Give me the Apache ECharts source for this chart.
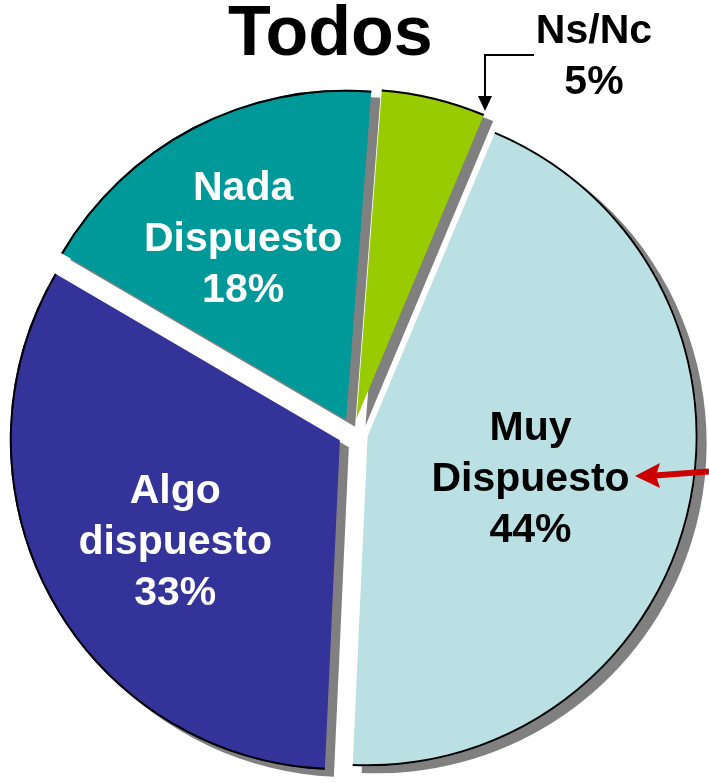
<!DOCTYPE html>
<html lang="es">
<head>
    <meta charset="UTF-8">
    <title>Todos</title>
    <script src="https://cdn.jsdelivr.net/npm/echarts@6/dist/echarts.min.js"></script>
    <style>
        html, body { margin: 0; padding: 0; background: #fff; }
        #main { width: 709px; height: 783px; }
    </style>
</head>
<body>
<div id="main"></div>
<script>
    // datos del grafico (porcentajes; la etiqueta los muestra redondeados)
    var categories = ['Ns/Nc', 'Muy Dispuesto', 'Algo dispuesto', 'Nada Dispuesto'];
    var values = [5.1, 44.4, 32.7, 17.8];
    var colors = ['#99CC00', '#BBE0E3', '#333399', '#009999'];
    var labelColors = ['#000', '#000', '#fff', '#fff'];

    // pequeños ajustes de las etiquetas (px)
    var labelNudge = [[198, -198], [-1, 7], [-17, 22], [-25, -31]];

    var FONT = 'Liberation Sans, Arial, sans-serif';
    var center = [353, 433];
    var R = 330;

    var chart = echarts.init(document.getElementById('main'));

    var sliceData = categories.map(function (name, i) {
        return {
            name: name,
            value: values[i],
            selected: true,
            itemStyle: { color: colors[i] },
            label: { color: labelColors[i] }
        };
    });

    // contorno negro solo en el arco exterior
    var rimData = categories.map(function (name, i) {
        return { name: name, value: values[i], selected: true };
    });

    chart.setOption({
        animation: false,
        title: {
            text: 'Todos',
            left: 228,
            top: 1,
            padding: 0,
            textStyle: { fontFamily: FONT, fontSize: 70, fontWeight: 'bold', color: '#000' }
        },
        series: [{
            type: 'pie',
            center: center,
            radius: [0, R],
            startAngle: 85.6,
            clockwise: true,
            selectedMode: 'multiple',
            selectedOffset: 15,
            silent: true,
            avoidLabelOverlap: false,
            data: sliceData,
            itemStyle: {
                shadowColor: '#808080',
                shadowBlur: 0,
                shadowOffsetX: 9,
                shadowOffsetY: 7
            },
            label: {
                show: true,
                position: 'inside',
                fontFamily: FONT,
                fontSize: 41,
                fontWeight: 'bold',
                lineHeight: 51,
                align: 'center',
                formatter: function (p) {
                    return p.name.replace(' ', '\n') + '\n' + Math.round(p.value) + '%';
                }
            },
            labelLine: { show: false },
            labelLayout: function (p) {
                var n = labelNudge[p.dataIndex];
                return { dx: n[0], dy: n[1] };
            }
        }, {
            type: 'pie',
            center: center,
            radius: [R - 2, R],
            startAngle: 85.6,
            clockwise: true,
            selectedMode: 'multiple',
            selectedOffset: 15,
            silent: true,
            data: rimData,
            itemStyle: { color: '#000' },
            label: { show: false },
            labelLine: { show: false }
        }],
        graphic: [
            // flecha de Ns/Nc
            {
                type: 'polyline',
                z: 100,
                shape: { points: [[534, 55], [485, 55], [485, 98]] },
                style: { stroke: '#000', lineWidth: 2, fill: null }
            },
            {
                type: 'polygon',
                z: 100,
                shape: { points: [[478, 96], [492, 96], [485, 111]] },
                style: { fill: '#000' }
            },
            // flecha roja
            {
                type: 'line',
                z: 100,
                shape: { x1: 709, y1: 471.5, x2: 655, y2: 475.5 },
                style: { stroke: '#CC0000', lineWidth: 6 }
            },
            {
                type: 'polygon',
                z: 100,
                shape: { points: [[635, 476], [660, 463], [656, 475.5], [660, 488]] },
                style: { fill: '#CC0000' }
            }
        ]
    });
</script>
</body>
</html>
